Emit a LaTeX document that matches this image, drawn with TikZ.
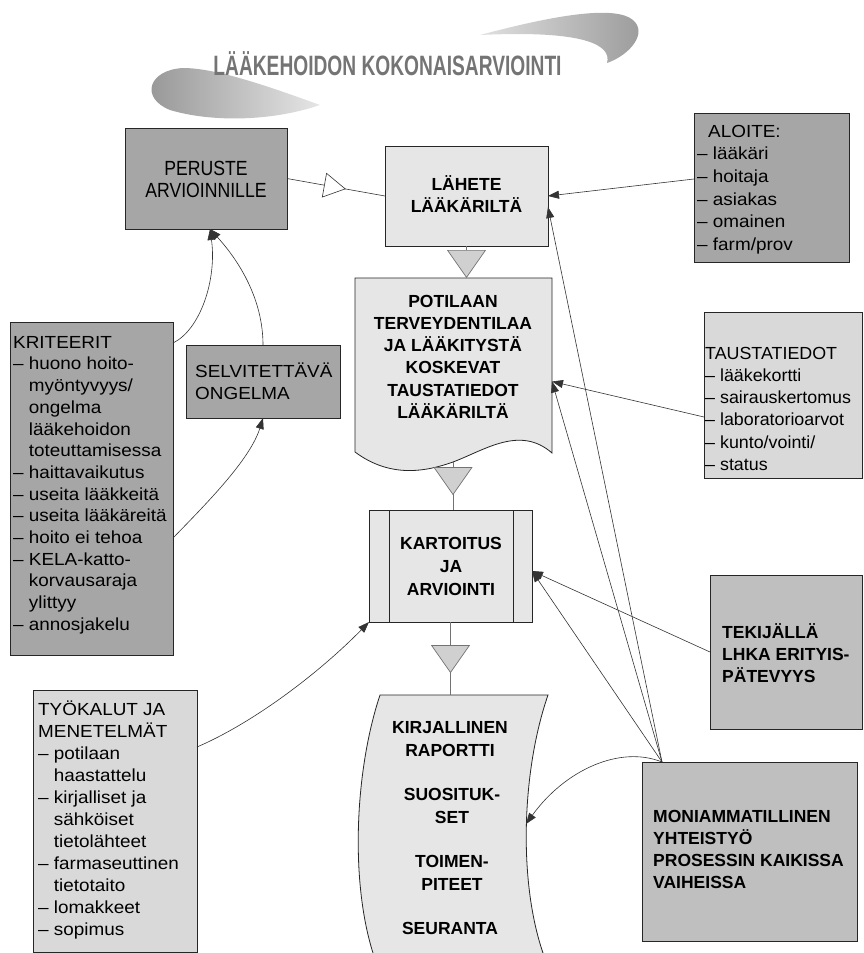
\documentclass[tikz,border=0pt]{standalone}
\usepackage{fontspec}
\setmainfont{Liberation Sans}
\newfontfamily\regf{Liberation Sans}[FakeStretch=1.08]
\newfontfamily\regn{Liberation Sans}[FakeStretch=1.02]
\newfontfamily\condf{Liberation Sans}[FakeStretch=0.86]
\newfontfamily\titlef{Liberation Sans Bold}[FakeStretch=0.685]
\usetikzlibrary{arrows.meta,decorations.markings,calc}
\definecolor{cdark}{HTML}{A6A6A6}
\definecolor{cmid}{HTML}{BFBFBF}
\definecolor{clight}{HTML}{D9D9D9}
\definecolor{cpale}{HTML}{E6E6E6}
\definecolor{ctri}{HTML}{D0D0D0}
\definecolor{ctitle}{HTML}{747474}
\newcommand{\fl}{\rule{0pt}{17pt}}
\newcommand{\ind}{\phantom{– }}
\begin{document}
\begin{tikzpicture}[x=1pt,y=-1pt,
  boxline/.style={draw=black!85,line width=0.8pt},
  box/.style={boxline,rectangle,inner sep=0pt,outer sep=0pt},
  ghost/.style={rectangle,inner sep=0pt,outer sep=0pt,draw=none},
  conn/.style={draw=black!80,line width=0.6pt},
  arr/.style={conn,-{Triangle[length=11pt,width=8pt]}},
  flowline/.style={draw=black!55,line width=0.7pt},
  flowtri/.style={flowline,decoration={markings,mark=at position #1 with {\arrow{Triangle[length=28pt,width=39pt,fill=ctri]}}},postaction={decorate}},
  opentri/.style={conn,decoration={markings,mark=at position #1 with {\arrow{Triangle[open,length=22pt,width=25pt,fill=white]}}},postaction={decorate}},
  regt/.style={font=\regf\fontsize{17.5}{#1}\selectfont,align=left,anchor=north west,inner sep=0pt},
  regt/.default=22,
  boldt/.style={font=\bfseries\fontsize{17.5}{#1}\selectfont,align=center,anchor=north,inner sep=0pt},
  boldt/.default=22.5,
  boldl/.style={font=\bfseries\fontsize{17.5}{#1}\selectfont,align=left,anchor=north west,inner sep=0pt},
  boldl/.default=22
]
\useasboundingbox (0,0) rectangle (863,953);

% swooshes and title
\shade[left color=black!12,right color=black!40] (480,35) .. controls (555,15) and (615,5) .. (633,20) .. controls (648,33) and (630,55) .. (607,63) .. controls (612,45) and (585,30) .. (480,35) -- cycle;
\shade[left color=black!42,right color=black!10] (320,105) .. controls (265,85) and (215,68) .. (183,68) .. controls (148,70) and (140,98) .. (170,110) .. controls (210,122) and (270,122) .. (320,105) -- cycle;
\node[font=\titlef\fontsize{28}{30}\selectfont,text=ctitle,anchor=base,inner sep=0pt] (title) at (387.5,75) {LÄÄKEHOIDON KOKONAISARVIOINTI};

% boxes
\node[box,fill=cdark,minimum width=162pt,minimum height=101pt] (peruste) at (206,178.5) {};
\node[box,fill=cpale,minimum width=163pt,minimum height=100pt] (lahete) at (466.5,196) {};
\node[box,fill=cdark,minimum width=155pt,minimum height=149pt] (aloite) at (771.5,187.5) {};
\node[ghost,minimum width=197pt,minimum height=175pt] (pot) at (453.5,365.5) {};
\filldraw[fill=cpale,boxline] (355,278) -- (552,278) -- (552,453) .. controls (520,425) and (485,450) .. (453,462) .. controls (425,472) and (390,478) .. (355,452) -- cycle;
\coordinate (potb) at (453,462);
\node[box,fill=cdark,minimum width=163pt,minimum height=333pt] (krit) at (91.5,488.5) {};
\node[box,fill=cdark,minimum width=154pt,minimum height=73pt] (selv) at (263,381.5) {};
\node[box,fill=clight,minimum width=158pt,minimum height=166pt] (taus) at (783,395) {};
\node[box,fill=cpale,minimum width=163pt,minimum height=112pt] (kart) at (450.5,566) {};
\draw[boxline] ([xshift=20pt]kart.north west) -- ([xshift=20pt]kart.south west);
\draw[boxline] ([xshift=-19pt]kart.north east) -- ([xshift=-19pt]kart.south east);
\node[box,fill=cmid,minimum width=152pt,minimum height=154pt] (tek) at (786,652) {};
\node[box,fill=cmid,minimum width=215pt,minimum height=179pt] (moni) at (749.5,851.5) {};
\node[box,fill=clight,minimum width=164pt,minimum height=262pt] (tyo) at (115,821) {};
\node[ghost,minimum width=191pt,minimum height=258pt] (kirj) at (452.5,824) {};
\fill[cpale] (380,695) -- (548,695) .. controls (522,770) and (518,880) .. (543,953) -- (373,953) .. controls (350,880) and (355,770) .. (380,695) -- cycle;
\draw[boxline] (373,953) .. controls (350,880) and (355,770) .. (380,695) -- (548,695) .. controls (522,770) and (518,880) .. (543,953);
\coordinate (kirjr) at (526,824);
\coordinate (mc) at ([xshift=20pt]moni.north west);

% texts
\node[font=\condf\fontsize{20.5}{22.5}\selectfont,align=center,anchor=north,inner sep=0pt] (t-peruste) at (206,158) {\fl PERUSTE\\ARVIOINNILLE};
\node[boldt=22] (t-lahete) at (466.5,173) {\fl LÄHETE\\LÄÄKÄRILTÄ};
\node[regt=22.6] (t-aloite) at (697,120) {\fl\hspace{11pt}ALOITE:\\– lääkäri\\– hoitaja\\– asiakas\\– omainen\\– farm/prov};
\node[boldt=22.2] (t-pot) at (453,290) {\fl POTILAAN\\TERVEYDENTILAA\\JA LÄÄKITYSTÄ\\KOSKEVAT\\TAUSTATIEDOT\\LÄÄKÄRILTÄ};
\node[regt=21.7] (t-krit) at (13,331) {\fl KRITEERIT\\– huono hoito-\\\ind myöntyvyys/\\\ind ongelma\\\ind lääkehoidon\\\ind toteuttamisessa\\– haittavaikutus\\– useita lääkkeitä\\– useita lääkäreitä\\– hoito ei tehoa\\– KELA-katto-\\\ind korvausaraja\\\ind ylittyy\\– annosjakelu};
\node[regt=22] (t-selv) at (195,360) {\fl SELVITETTÄVÄ\\ONGELMA};
\node[regt,font=\regn\fontsize{17.5}{22.2}\selectfont] (t-taus) at (705,342) {\fl TAUSTATIEDOT\\– lääkekortti\\– sairauskertomus\\– laboratorioarvot\\– kunto/vointi/\\– status};
\node[boldt=23] (t-kart) at (451,532) {\fl KARTOITUS\\JA\\ARVIOINTI};
\node[boldl=22] (t-tek) at (722,621) {\fl TEKIJÄLLÄ\\LHKA ERITYIS-\\PÄTEVYYS};
\node[boldl=22] (t-moni) at (653,805) {\fl MONIAMMATILLINEN\\YHTEISTYÖ\\PROSESSIN KAIKISSA\\VAIHEISSA};
\node[regt=22] (t-tyo) at (38,698) {\fl TYÖKALUT JA\\MENETELMÄT\\– potilaan\\\ind haastattelu\\– kirjalliset ja\\\ind sähköiset\\\ind tietolähteet\\– farmaseuttinen\\\ind tietotaito\\– lomakkeet\\– sopimus};
\node[boldt=23.5] (t-kirj1) at (450,716) {\fl KIRJALLINEN\\RAPORTTI};
\node[boldt=23] (t-kirj2) at (452,783) {\fl SUOSITUK-\\SET};
\node[boldt=23] (t-kirj3) at (452,850) {\fl TOIMEN-\\PITEET};
\node[boldt=23] (t-kirj4) at (450,917) {\fl SEURANTA};

% main flow
\draw[opentri=0.6] (peruste.east) -- (lahete.west);
\draw[flowline,-{Triangle[length=28pt,width=39pt,fill=ctri]}] (lahete.south) -- (lahete.south |- pot.north);
\draw[flowtri=0.69] (potb) -- (potb |- kart.north);
\draw[flowtri=0.70] (kart.south) -- (kart.south |- kirj.north);

% connectors
\draw[arr] ([yshift=8.5pt]aloite.west) -- (lahete.east);
\draw[arr] (mc) -- ([yshift=-11pt]lahete.east);
\draw[arr] ([yshift=-22pt]taus.west) -- ([yshift=-16pt]pot.east);
\draw[arr] (mc) -- ([yshift=-16pt]pot.east);
\draw[arr] (tek.west) -- ([yshift=-5pt]kart.east);
\draw[arr] (mc) -- ([yshift=-5pt]kart.east);
\draw[arr] (mc) .. controls (620,745) and (565,770) .. (kirjr);
\draw[arr] ([yshift=-21pt]krit.north east) .. controls (200,330) and (217,280) .. ([xshift=4pt]peruste.south);
\draw[arr] (selv.north) .. controls (263,300) and (240,262) .. ([xshift=4pt]peruste.south);
\draw[arr] ([yshift=-49.5pt]krit.east) .. controls (205,505) and (250,460) .. (selv.south);
\draw[arr] ([yshift=74pt]tyo.east) .. controls (255,722) and (320,672) .. (kart.south west);
\end{tikzpicture}
\end{document}
